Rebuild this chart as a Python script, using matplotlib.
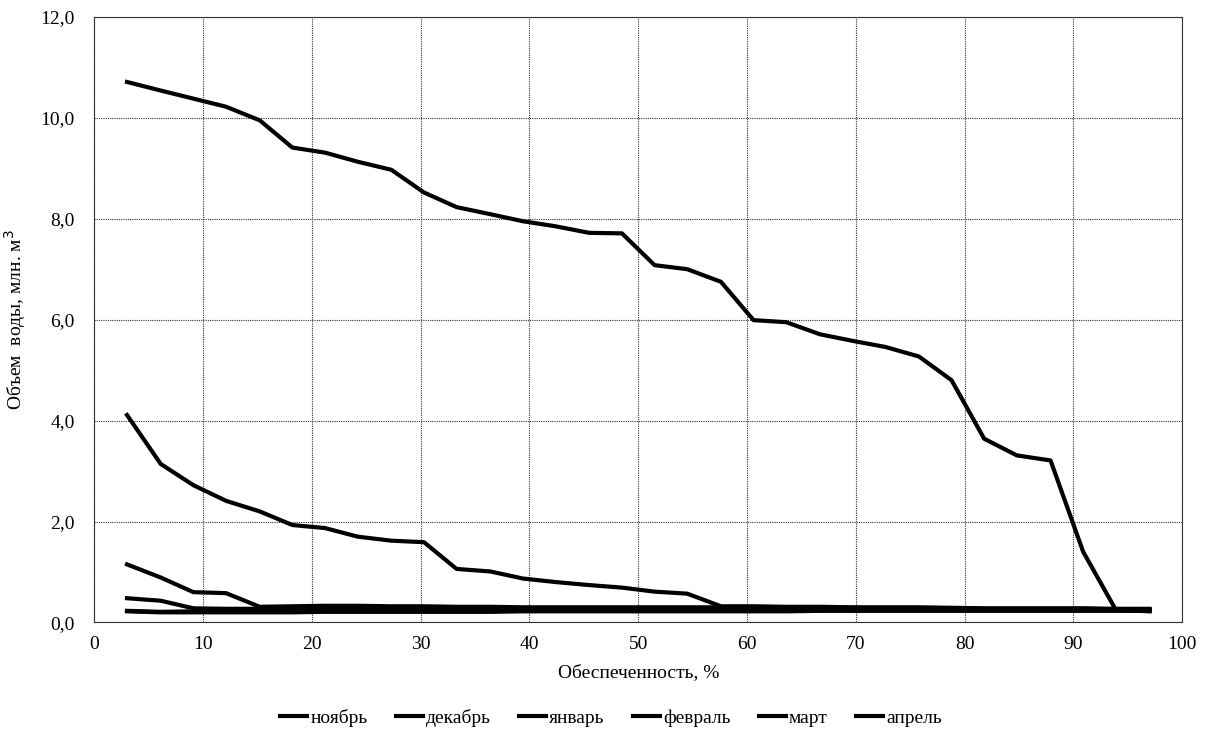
import numpy as np
import matplotlib
matplotlib.use("Agg")
import matplotlib.pyplot as plt
from matplotlib.ticker import FuncFormatter, MultipleLocator

plt.rcParams['font.family'] = ['Liberation Serif', 'DejaVu Serif']

# обеспеченность, %
p = [3.0, 6.1, 9.1, 12.1, 15.2, 18.2, 21.2, 24.2, 27.3, 30.3, 33.3, 36.4,
     39.4, 42.4, 45.5, 48.5, 51.5, 54.5, 57.6, 60.6, 63.6, 66.7, 69.7, 72.7,
     75.8, 78.8, 81.8, 84.8, 87.9, 90.9, 93.9, 97.0]

nov = [10.71, 10.54, 10.38, 10.22, 9.95, 9.41, 9.31, 9.13, 8.97, 8.52, 8.23, 8.09,
       7.95, 7.85, 7.72, 7.71, 7.08, 7.00, 6.75, 5.99, 5.95, 5.71, 5.58, 5.46,
       5.27, 4.80, 3.64, 3.31, 3.21, 1.40, 0.25, 0.22]
dec = [4.11, 3.14, 2.72, 2.41, 2.20, 1.93, 1.87, 1.70, 1.62, 1.59, 1.06, 1.01,
       0.87, 0.80, 0.74, 0.69, 0.61, 0.57, 0.32, 0.32, 0.31, 0.31, 0.30, 0.30,
       0.30, 0.29, 0.28, 0.28, 0.28, 0.28, 0.27, 0.27]
jan = [1.15, 0.89, 0.60, 0.58, 0.31, 0.32, 0.33, 0.33, 0.32, 0.32, 0.31, 0.31,
       0.30, 0.30, 0.30, 0.30, 0.30, 0.30, 0.30, 0.30, 0.29, 0.29, 0.29, 0.28,
       0.28, 0.28, 0.27, 0.27, 0.27, 0.27, 0.26, 0.26]
feb = [0.48, 0.43, 0.28, 0.27, 0.27, 0.27, 0.27, 0.28, 0.28, 0.27, 0.27, 0.27,
       0.27, 0.26, 0.26, 0.26, 0.26, 0.26, 0.26, 0.26, 0.26, 0.26, 0.25, 0.25,
       0.25, 0.25, 0.25, 0.25, 0.25, 0.25, 0.25, 0.25]
mar = [0.23, 0.21, 0.22, 0.22, 0.22, 0.23, 0.23, 0.23, 0.23, 0.23, 0.23, 0.23,
       0.23, 0.23, 0.24, 0.24, 0.24, 0.24, 0.24, 0.24, 0.24, 0.24, 0.24, 0.24,
       0.24, 0.24, 0.24, 0.24, 0.24, 0.24, 0.24, 0.24]
apr = [0.22, 0.20, 0.20, 0.20, 0.20, 0.20, 0.21, 0.21, 0.21, 0.21, 0.21, 0.21,
       0.22, 0.22, 0.22, 0.22, 0.22, 0.22, 0.22, 0.22, 0.22, 0.23, 0.23, 0.23,
       0.23, 0.23, 0.23, 0.23, 0.23, 0.23, 0.23, 0.23]

series = [nov, dec, jan, feb, mar, apr]
labels = ["ноябрь", "декабрь", "январь", "февраль", "март", "апрель"]

fig = plt.figure(figsize=(12.1, 7.34), dpi=100)
ax = fig.add_axes([0.078, 0.152, 0.899, 0.825])

for y, lab in zip(series, labels):
    ax.plot(p, y, color="black", lw=3.0, label=lab, solid_joinstyle="round")

ax.set_xlim(0, 100)
ax.set_ylim(0, 12)
ax.xaxis.set_major_locator(MultipleLocator(10))
ax.yaxis.set_major_locator(MultipleLocator(2))
ax.yaxis.set_major_formatter(FuncFormatter(lambda v, pos: f"{v:.1f}".replace(".", ",")))
ax.tick_params(axis="y", length=0, labelsize=14, pad=14)
ax.tick_params(axis="x", length=0, labelsize=14, pad=10)
ax.grid(True, color="#333333", linestyle=(0, (1, 1)), linewidth=0.8)
for s in ax.spines.values():
    s.set_linestyle((0, (1, 1)))
    s.set_linewidth(0.8)
    s.set_color("#333333")

ax.set_xlabel("Обеспеченность, %", fontsize=14, labelpad=8)
ax.set_ylabel("Объем  воды, млн. м$^3$", fontsize=14)
ax.yaxis.set_label_coords(-0.061, 0.5)

fig.legend(loc="center", bbox_to_anchor=(0.505, 0.022), ncol=6, frameon=False,
           fontsize=14, handlelength=1.4, handletextpad=0.15, columnspacing=1.45)

fig.savefig("out.png", dpi=100)
